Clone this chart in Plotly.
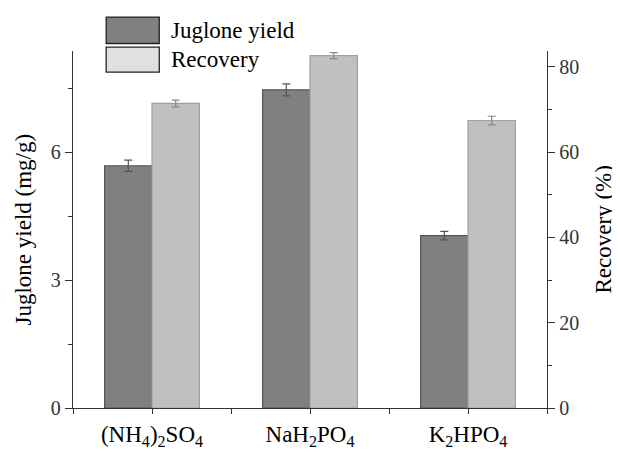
import plotly.graph_objects as go

categories = ["(NH<sub>4</sub>)<sub>2</sub>SO<sub>4</sub>", "NaH<sub>2</sub>PO<sub>4</sub>", "K<sub>2</sub>HPO<sub>4</sub>"]
juglone_yield = [5.68, 7.46, 4.04]
juglone_err = [0.13, 0.14, 0.10]
recovery = [71.4, 82.6, 67.4]
recovery_err = [0.8, 0.7, 1.0]
left_ticks = [0, 3, 6]
right_ticks = [0, 20, 40, 60, 80]

FONT = "Liberation Serif, Times New Roman, Times, serif"
xpos = list(range(len(categories)))

fig = go.Figure()
fig.add_trace(go.Bar(
    x=xpos, y=juglone_yield, name="Juglone yield", width=0.3, offset=-0.3,
    marker=dict(color="#808080", line=dict(color="#555555", width=1.2)),
    error_y=dict(type="data", array=juglone_err, color="#555555", thickness=1.2, width=4),
    yaxis="y", showlegend=False,
))
fig.add_trace(go.Bar(
    x=xpos, y=recovery, name="Recovery", width=0.3, offset=0,
    marker=dict(color="#c0c0c0", line=dict(color="#a0a0a0", width=1.2)),
    error_y=dict(type="data", array=recovery_err, color="#888888", thickness=1.2, width=4),
    yaxis="y2", showlegend=False,
))

axis_common = dict(showgrid=False, zeroline=False, showline=True, linecolor="#333333",
                   linewidth=1.3, ticks="outside", tickcolor="#333333", tickwidth=1.3,
                   automargin=False)
num_font = dict(family=FONT, size=20, color="#333333")

# page body has an 8px default margin: figure is sized to fit the 620x452 window
fig.update_layout(
    width=612, height=444,
    margin=dict(l=64.5, r=73, t=42.7, b=44.3, autoexpand=False),
    plot_bgcolor="white", paper_bgcolor="white",
    barmode="overlay",
    font=dict(family=FONT, color="black"),
    xaxis=dict(**axis_common, range=[-0.5, 2.5], tickvals=xpos, ticktext=categories,
               ticklen=5, tickfont=dict(family=FONT, size=23, color="black"),
               minor=dict(dtick=0.5, tick0=0, ticklen=5, ticks="outside", tickcolor="#333333")),
    yaxis=dict(**axis_common, range=[0, 8.37], tickvals=left_ticks, ticklen=7, tickfont=num_font,
               minor=dict(dtick=1.5, tick0=0, ticklen=4, ticks="outside", tickcolor="#333333")),
    yaxis2=dict(**axis_common, range=[0, 83.7], tickvals=right_ticks, ticklen=7, tickfont=num_font,
                overlaying="y", side="right", anchor="x",
                minor=dict(dtick=10, tick0=0, ticklen=4, ticks="outside", tickcolor="#333333")),
)

# axis titles (placed relative to plot area)
fig.add_annotation(xref="paper", yref="paper", x=0, xshift=-50, y=0.5, text="Juglone yield (mg/g)",
                   textangle=-90, showarrow=False, xanchor="center", yanchor="middle",
                   font=dict(family=FONT, size=23, color="black"))
fig.add_annotation(xref="paper", yref="paper", x=1, xshift=56, y=0.5, text="Recovery (%)",
                   textangle=-90, showarrow=False, xanchor="center", yanchor="middle",
                   font=dict(family=FONT, size=23, color="black"))

# custom legend
legend_items = [("Juglone yield", "#808080", 1.095, 1.021), ("Recovery", "#e0e0e0", 1.011, 0.941)]
for name, col, y1, y0 in legend_items:
    fig.add_shape(type="rect", xref="paper", yref="paper", x0=0.07, x1=0.182, y0=y0, y1=y1,
                  fillcolor=col, line=dict(color="#222222", width=1.3))
    fig.add_annotation(xref="paper", yref="paper", x=0.203, y=(y0 + y1) / 2, text=name,
                       showarrow=False, xanchor="left", yanchor="middle",
                       font=dict(family=FONT, size=23, color="black"))

fig.write_html("out.html")
